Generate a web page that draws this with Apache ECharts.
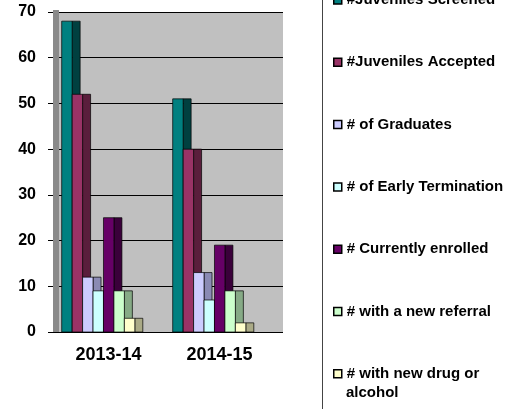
<!DOCTYPE html>
<html>
<head>
<meta charset="utf-8">
<script src="https://cdn.jsdelivr.net/npm/echarts@6/dist/echarts.min.js"></script>
<style>
  html, body { margin: 0; padding: 0; background: #fff; }
  #chart { width: 518px; height: 409px; }
</style>
</head>
<body>
<div id="chart"></div>
<script>
const categories = ['2013-14', '2014-15']
const seriesNames = [
  '#Juveniles Screened',
  '#Juveniles Accepted',
  '# of Graduates',
  '# of Early Termination',
  '# Currently enrolled',
  '# with a new referral',
  '# with new drug or alcohol',
]
const screened = [68, 51]
const accepted = [52, 40]
const graduates = [12, 13]
const earlyTermination = [9, 7]
const currentlyEnrolled = [25, 19]
const newReferral = [9, 9]
const newDrugAlcohol = [3, 2]
const yTicks = [0, 10, 20, 30, 40, 50, 60, 70]

const seriesValues = [screened, accepted, graduates, earlyTermination, currentlyEnrolled, newReferral, newDrugAlcohol]
const frontColors = ['#008080', '#993366', '#CCCCFF', '#CCFFFF', '#660066', '#CCFFCC', '#FFFFCC']
const sideColors = ['#004040', '#5a1e3c', '#8a8ab4', '#8ab4b4', '#3a003a', '#86aa86', '#aaaa86']

const font = 'Liberation Sans, Arial, sans-serif'

// fake 3d column: front face plus darker side face behind next column
function makeRender(idx) {
  return function (params, api) {
    const cat = api.value(0)
    const val = api.value(1)
    const base = api.coord([cat, 0])
    const top = api.coord([cat, val])
    const band = api.size([1, 0])[0]
    const w = band * 0.0941
    const d = band * 0.072
    const x = base[0] - band * 0.4216 + idx * w
    const h = base[1] - top[1]
    return {
      type: 'group',
      children: [
        {
          type: 'rect',
          shape: { x: x + w, y: top[1], width: d, height: h },
          style: { fill: sideColors[idx], stroke: '#000', lineWidth: 0.7 },
        },
        {
          type: 'rect',
          shape: { x: x, y: top[1], width: w, height: h },
          style: { fill: frontColors[idx], stroke: '#000', lineWidth: 0.7 },
        },
      ],
    }
  }
}

const chart = echarts.init(document.getElementById('chart'))

const option = {
  animation: false,
  grid: [
    { left: 53, right: 235, top: 12, bottom: 77, show: true, backgroundColor: '#C0C0C0', borderWidth: 0 },
    { left: 53, right: 243, top: 12, bottom: 77 },
  ],
  xAxis: [
    { type: 'category', gridIndex: 0, data: categories, show: false },
    {
      type: 'category',
      gridIndex: 1,
      data: categories,
      axisLine: { lineStyle: { color: '#000', width: 1 } },
      axisTick: { length: 5, lineStyle: { color: '#000' } },
      axisLabel: { color: '#000', fontFamily: font, fontWeight: 'bold', fontSize: 18, margin: 14 },
    },
  ],
  yAxis: [
    {
      type: 'value',
      gridIndex: 0,
      min: 0,
      max: 70,
      interval: 10,
      axisLine: { show: false },
      axisTick: { show: false },
      axisLabel: { show: false },
      splitLine: { lineStyle: { color: '#000', width: 1 } },
    },
    {
      type: 'value',
      gridIndex: 1,
      min: 0,
      max: 70,
      interval: 10,
      axisLine: { show: true, lineStyle: { color: '#000', width: 1 } },
      axisTick: { show: true, length: 5, lineStyle: { color: '#000' } },
      axisLabel: {
        color: '#000',
        fontFamily: font,
        fontWeight: 'bold',
        fontSize: 16,
        margin: 17,
        formatter: (v) => (yTicks.includes(v) ? String(v) : ''),
      },
      splitLine: { show: false },
    },
  ],
  legend: {
    orient: 'vertical',
    left: 333,
    top: -8,
    height: 600,
    padding: 0,
    itemGap: 46.3,
    itemWidth: 8,
    itemHeight: 8,
    icon: 'rect',
    selectedMode: false,
    textStyle: { color: '#000', fontFamily: font, fontWeight: 'bold', fontSize: 15, lineHeight: 16 },
    data: seriesNames.map((name, i) => ({
      name: name,
      itemStyle: { color: frontColors[i], borderColor: '#000', borderWidth: 1.5 },
    })),
    // last entry wraps: second line drawn below as its own text
    formatter: (name) => (name === '# with new drug or alcohol' ? '# with new drug or' : name),
  },
  graphic: [
    {
      type: 'rect',
      shape: { x: 53, y: 10, width: 6, height: 322 },
      style: { fill: '#8a8a8a' },
      z: 1,
    },
    {
      type: 'line',
      shape: { x1: 322.5, y1: 0, x2: 322.5, y2: 409 },
      style: { stroke: '#444', lineWidth: 1 },
    },
    {
      type: 'text',
      left: 346,
      top: 385,
      style: { text: 'alcohol', fill: '#000', font: 'bold 15px ' + font },
    },
  ],
  series: seriesNames.map((name, i) => ({
    name: name,
    type: 'custom',
    xAxisIndex: 1,
    yAxisIndex: 1,
    itemStyle: { color: frontColors[i] },
    renderItem: makeRender(i),
    encode: { x: 0, y: 1 },
    data: categories.map((c, j) => [j, seriesValues[i][j]]),
    z: 2 + i,
  })),
}

window.onresize = chart.resize
chart.setOption(option)
</script>
</body>
</html>
